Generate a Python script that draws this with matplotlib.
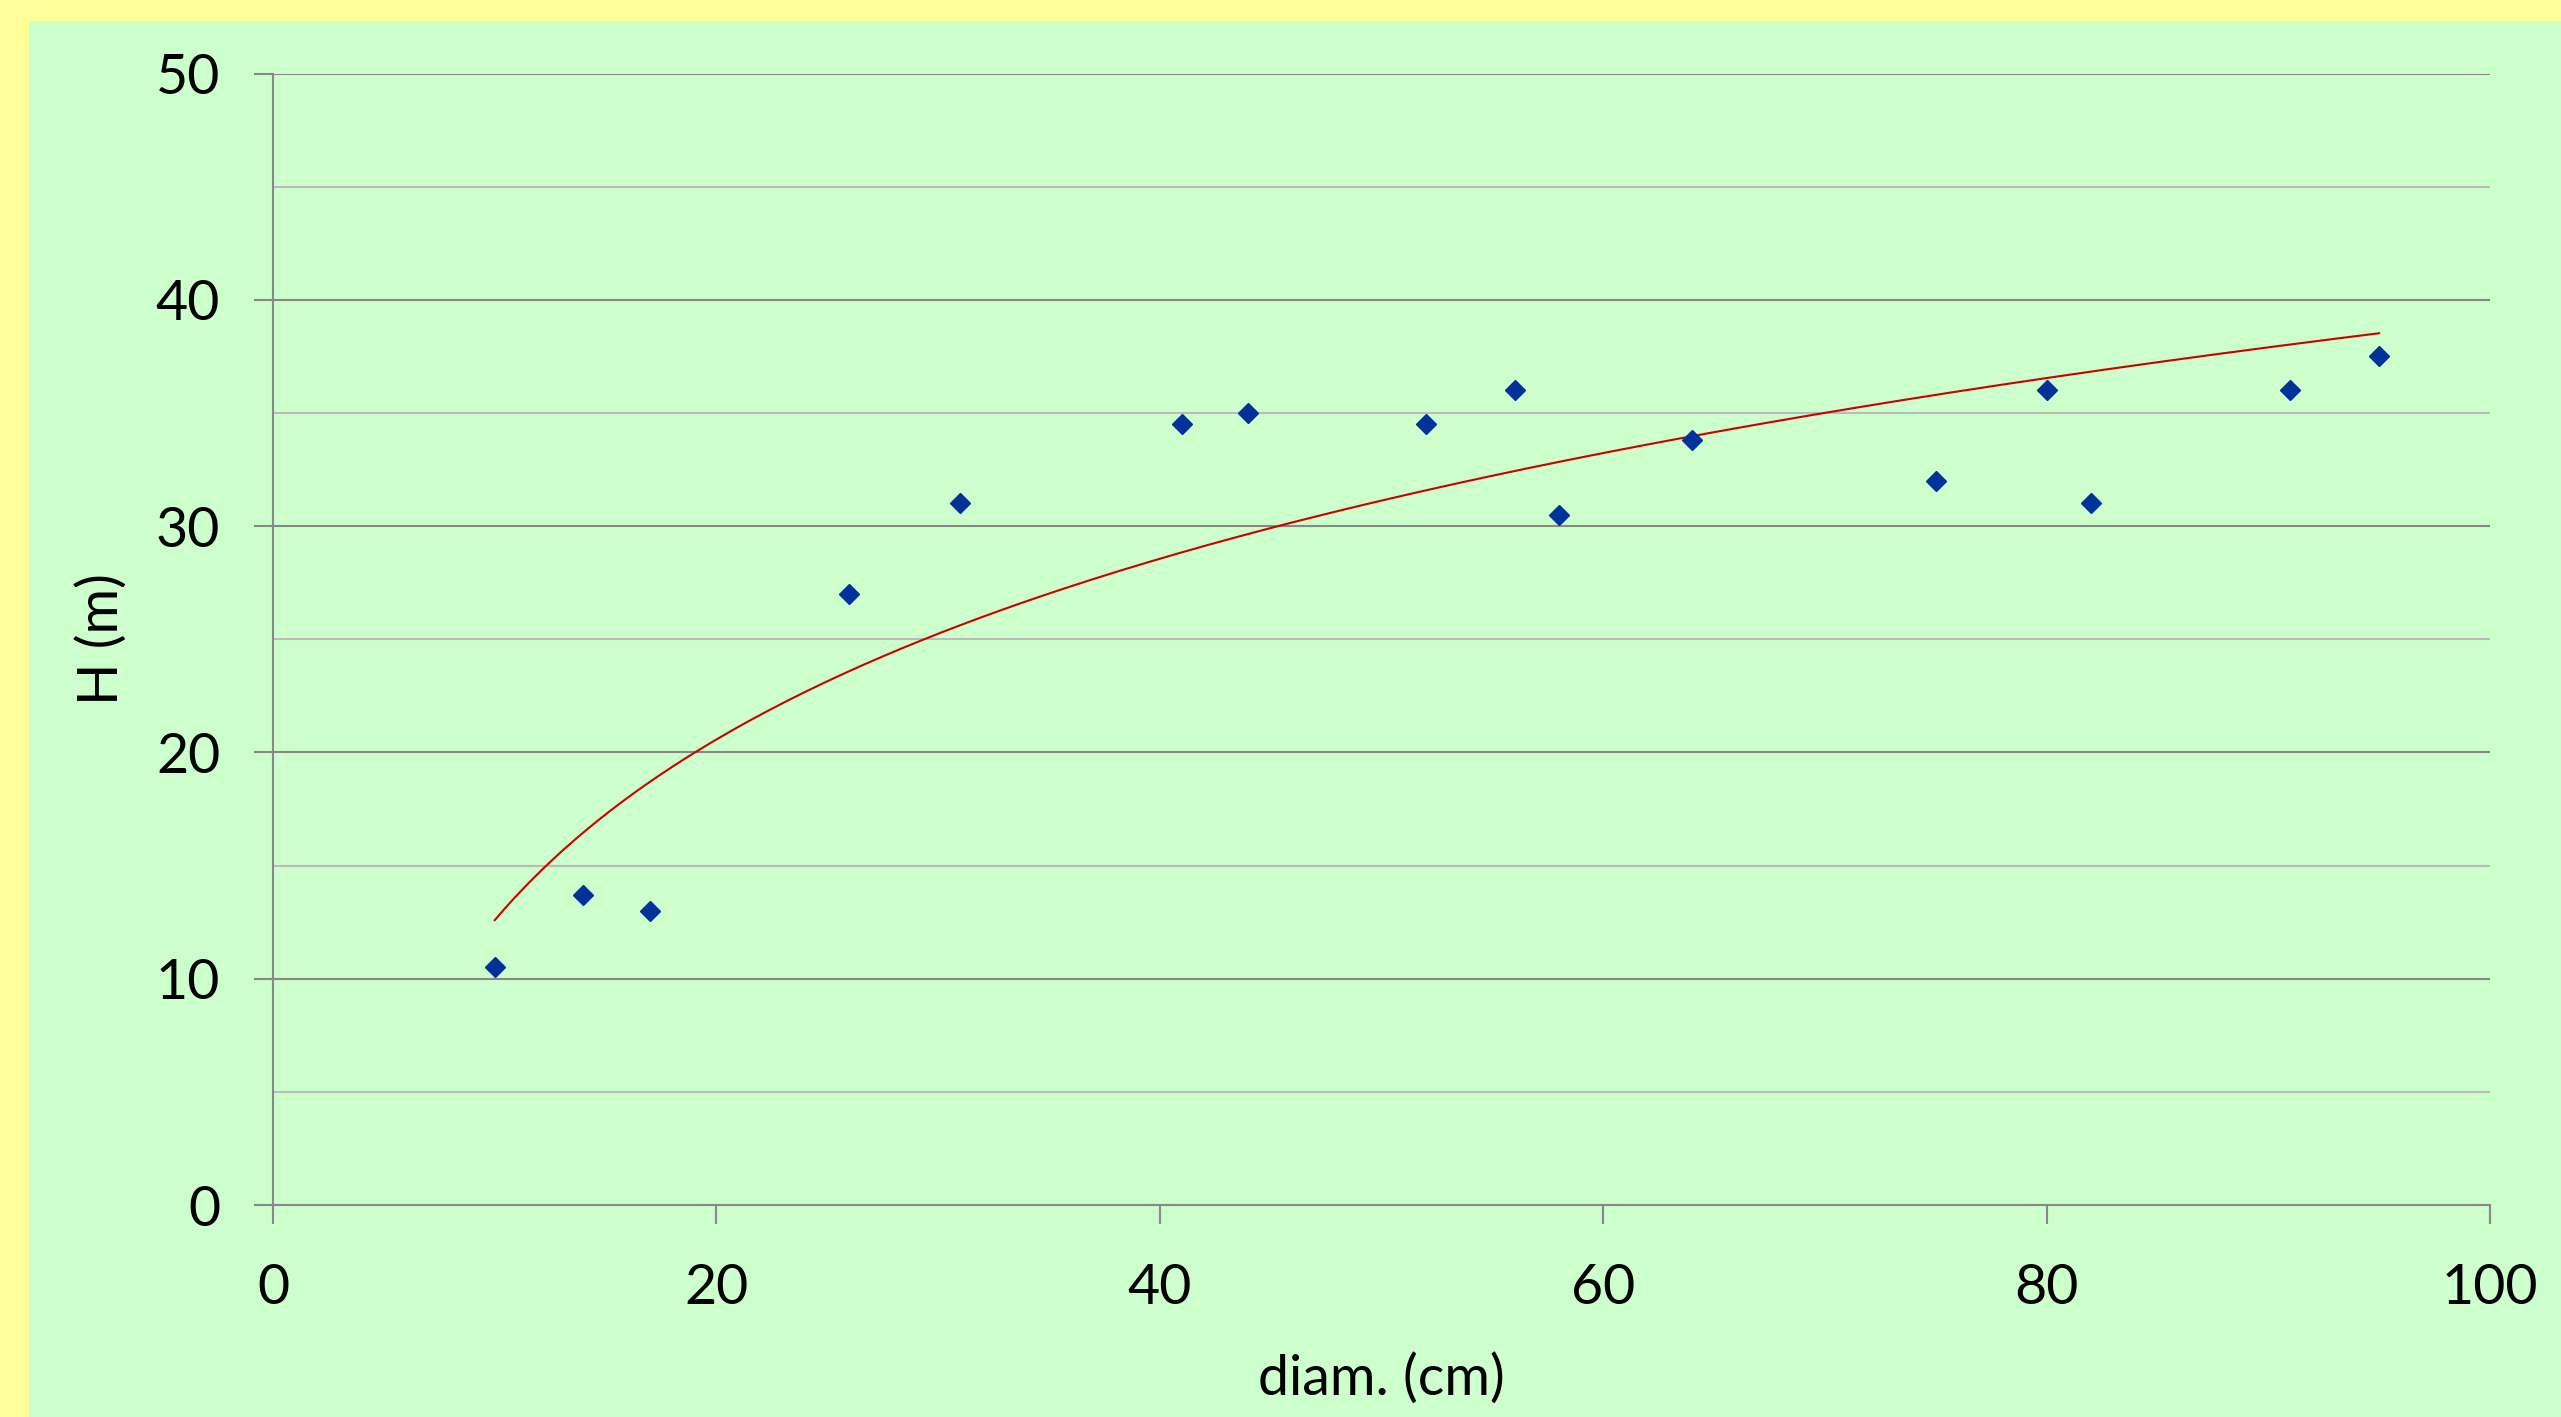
import matplotlib.pyplot as plt
import numpy as np
from matplotlib.patches import Rectangle

# diametre (cm) / hauteur (m)
diam = [10, 14, 17, 26, 31, 41, 44, 52, 56, 58, 64, 75, 80, 82, 91, 95]
haut = [10.5, 13.7, 13.0, 27.0, 31.0, 34.5, 35.0, 34.5, 36.0, 30.5, 33.8, 32.0, 36.0, 31.0, 36.0, 37.5]

plt.rcParams['font.family'] = ['Lato', 'DejaVu Sans']

W, H = 2561, 1417
fig = plt.figure(figsize=(W / 100, H / 100), dpi=100)
fig.patch.set_facecolor('#FFFF99')
fig.patches.append(Rectangle((29 / W, 0), 1, 1 - 21 / H, transform=fig.transFigure,
                             facecolor='#CCFFCC', edgecolor='none', zorder=-10))

ax = fig.add_axes([273 / W, 1 - 1205 / H, (2490 - 273) / W, (1205 - 73.5) / H])
ax.set_facecolor('none')

# courbe de tendance logarithmique
x = np.array(diam, dtype=float)
y = np.array(haut, dtype=float)
a, b = np.polyfit(np.log(x), y, 1)
xs = np.linspace(x.min(), x.max(), 200)
ax.plot(xs, a * np.log(xs) + b, color='#CC0000', lw=1.5, zorder=3)

ax.plot(diam, haut, linestyle='none', marker='D', ms=10.5, color='#003399', zorder=4)

ax.set_xlim(0, 100)
ax.set_ylim(0, 50)
ax.set_xticks(np.arange(0, 101, 20))
ax.set_yticks(np.arange(0, 51, 10))
ax.set_yticks(np.arange(5, 50, 10), minor=True)

ax.grid(axis='y', which='major', color='#888888', lw=1.5, zorder=1)
ax.grid(axis='y', which='minor', color='#BBBBBB', lw=1.5, zorder=1)
for s in ['top', 'right']:
    ax.spines[s].set_visible(False)
for s in ['left', 'bottom']:
    ax.spines[s].set_color('#888888')
    ax.spines[s].set_linewidth(1.5)

ax.tick_params(axis='both', which='major', length=14, width=1.5, color='#888888',
               labelsize=40)
ax.tick_params(axis='x', pad=28)
ax.tick_params(axis='y', pad=24)
ax.tick_params(axis='y', which='minor', length=0)

ax.set_xlabel('diam. (cm)', fontsize=40, labelpad=28)
ax.set_ylabel('H (m)', fontsize=40, labelpad=20)

fig.savefig('out.png', dpi=100, facecolor=fig.get_facecolor())
